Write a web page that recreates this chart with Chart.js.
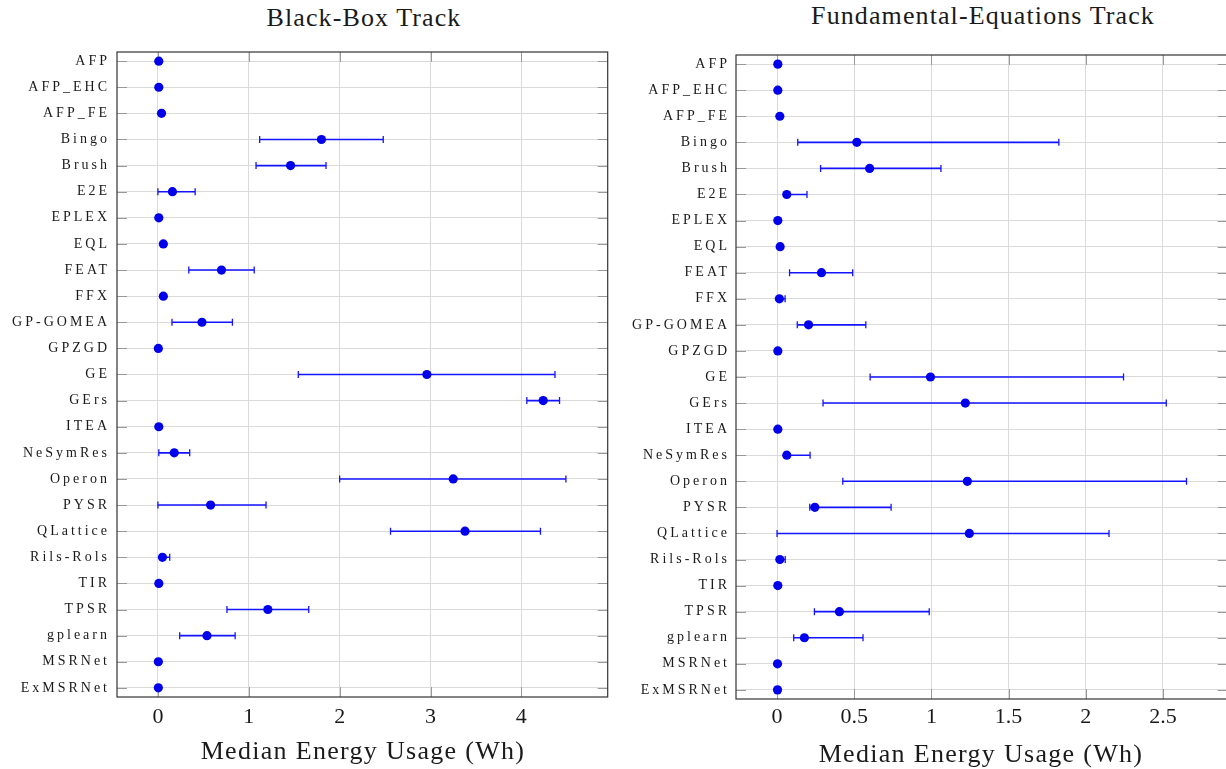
<!DOCTYPE html>
<html>
<head>
<meta charset="utf-8">
<script src="https://cdn.jsdelivr.net/npm/chart.js@4.4.1/dist/chart.umd.min.js"></script>
<style>
  html, body { margin: 0; padding: 0; background: #fff; overflow: hidden; width: 1226px; height: 769px; }
  canvas { position: absolute; top: 0; }
  #bb { left: 0; }
  #fe { left: 613px; }
  .txt { position: absolute; width: 600px; text-align: center; font-family: 'Liberation Serif', serif;
         color: #1a1a1a; line-height: 1; white-space: nowrap; }
  .title { font-size: 26px; letter-spacing: 1.1px; }
  .axis { font-size: 26px; letter-spacing: 1.3px; }
</style>
</head>
<body>
<div class="txt title" style="left:64px; top:5px;">Black-Box Track</div>
<div class="txt title" style="left:683px; top:3px;">Fundamental-Equations Track</div>
<canvas id="bb" width="613" height="769"></canvas>
<canvas id="fe" width="620" height="769"></canvas>
<div class="txt axis" style="left:63px; top:738px;">Median Energy Usage (Wh)</div>
<div class="txt axis" style="left:681px; top:741px;">Median Energy Usage (Wh)</div>
<script>
const methods = ['AFP', 'AFP_EHC', 'AFP_FE', 'Bingo', 'Brush', 'E2E', 'EPLEX', 'EQL', 'FEAT', 'FFX',
  'GP-GOMEA', 'GPZGD', 'GE', 'GErs', 'ITEA', 'NeSymRes', 'Operon', 'PYSR', 'QLattice', 'Rils-Rols',
  'TIR', 'TPSR', 'gplearn', 'MSRNet', 'ExMSRNet'];

// Black-Box track: median and spread (null = no visible bar)
const bbMedian = [0.01, 0.01, 0.04, 1.80, 1.46, 0.16, 0.01, 0.06, 0.70, 0.06,
  0.485, 0.005, 2.96, 4.24, 0.01, 0.18, 3.25, 0.58, 3.38, 0.05,
  0.01, 1.21, 0.54, 0.005, 0.005];
const bbLow = [null, null, null, 1.12, 1.08, 0.0, null, null, 0.34, null,
  0.155, null, 1.545, 4.06, null, 0.01, 2.0, 0.0, 2.56, 0.03,
  null, 0.76, 0.24, null, null];
const bbHigh = [null, null, null, 2.48, 1.85, 0.41, null, null, 1.06, null,
  0.82, null, 4.37, 4.42, null, 0.35, 4.49, 1.19, 4.21, 0.13,
  null, 1.66, 0.85, null, null];

// Fundamental-Equations track
const feMedian = [0.005, 0.005, 0.018, 0.517, 0.60, 0.063, 0.005, 0.02, 0.288, 0.015,
  0.204, 0.005, 0.994, 1.22, 0.005, 0.063, 1.233, 0.245, 1.246, 0.018,
  0.005, 0.404, 0.177, 0.003, 0.003];
const feLow = [null, null, null, 0.134, 0.282, 0.05, null, null, 0.081, 0.01,
  0.131, null, 0.603, 0.298, null, 0.05, 0.426, 0.212, 0.0, 0.01,
  null, 0.242, 0.108, null, null];
const feHigh = [null, null, null, 1.826, 1.062, 0.194, null, null, 0.49, 0.052,
  0.575, null, 2.245, 2.522, null, 0.214, 2.653, 0.739, 2.151, 0.053,
  null, 0.986, 0.557, null, null];

const bbTicks = [0, 1, 2, 3, 4];
const feTicks = [0, 0.5, 1, 1.5, 2, 2.5];

const DOT = 'rgb(0,0,235)';
const BAR = 'rgb(20,20,255)';
const GRID = '#dadada';
const FONT = "'Liberation Serif', serif";

function barPoints(low, high) {
  const pts = [];
  low.forEach((lo, i) => {
    if (lo === null) return;
    pts.push({x: lo, y: i}, {x: high[i], y: i}, {x: null, y: null});
  });
  return pts;
}

// pgfplots-style box with inward tick marks, and spaced-out method labels
const frame = {
  id: 'frame',
  beforeDraw(chart) {
    const y = chart.scales.y;
    if (!y._spaced) {
      const orig = y.drawLabels.bind(y);
      y.drawLabels = (area) => {
        chart.ctx.letterSpacing = '3px';
        orig(area);
        chart.ctx.letterSpacing = '0px';
      };
      y._spaced = true;
    }
  },
  beforeDatasetsDraw(chart) {
    const {ctx, chartArea: a, scales: {x, y}} = chart;
    ctx.save();
    ctx.strokeStyle = '#999';
    ctx.lineWidth = 1;
    ctx.beginPath();
    x.ticks.forEach((t, i) => {
      const px = Math.round(x.getPixelForTick(i)) + 0.5;
      ctx.moveTo(px, a.top); ctx.lineTo(px, a.top + 10);
      ctx.moveTo(px, a.bottom); ctx.lineTo(px, a.bottom - 10);
    });
    y.ticks.forEach((t, i) => {
      const py = Math.round(y.getPixelForTick(i)) + 0.5;
      ctx.moveTo(a.left, py); ctx.lineTo(a.left + 10, py);
      ctx.moveTo(a.right, py); ctx.lineTo(a.right - 10, py);
    });
    ctx.stroke();
    ctx.strokeStyle = '#333';
    ctx.lineWidth = 1.2;
    ctx.strokeRect(a.left, a.top, a.right - a.left, a.bottom - a.top);
    ctx.restore();
  }
};

function makeChart(id, median, low, high, ticks, xMin, xMax, lay) {
  return new Chart(document.getElementById(id), {
    type: 'scatter',
    data: {
      datasets: [
        {
          data: median.map((v, i) => ({x: v, y: i})),
          backgroundColor: DOT,
          borderColor: DOT,
          borderWidth: 0,
          pointRadius: 4.6
        },
        {
          data: barPoints(low, high),
          showLine: true,
          spanGaps: false,
          borderColor: BAR,
          borderWidth: 1.6,
          pointStyle: 'line',
          pointRotation: 90,
          pointRadius: 3.5,
          pointBorderColor: BAR,
          pointBorderWidth: 1.3
        }
      ]
    },
    options: {
      responsive: false,
      animation: false,
      events: [],
      layout: {padding: {top: lay.top, right: lay.right, left: 0, bottom: 0}},
      plugins: {legend: {display: false}, tooltip: {enabled: false}},
      scales: {
        x: {
          type: 'linear',
          min: xMin,
          max: xMax,
          afterBuildTicks: s => { s.ticks = ticks.map(v => ({value: v})); },
          afterFit: s => { s.height = lay.xHeight; },
          grid: {color: GRID, lineWidth: 1, drawTicks: false},
          border: {display: false},
          ticks: {font: {family: FONT, size: 22}, color: '#1a1a1a', padding: lay.xPad,
                  maxRotation: 0, autoSkip: false, callback: v => String(v)}
        },
        y: {
          type: 'linear',
          reverse: true,
          min: -0.35,
          max: methods.length - 0.65,
          afterBuildTicks: s => { s.ticks = methods.map((m, i) => ({value: i})); },
          afterFit: s => { s.width = lay.yWidth; },
          grid: {color: GRID, lineWidth: 1, drawTicks: false},
          border: {display: false},
          ticks: {font: {family: FONT, size: 14}, color: '#1a1a1a', padding: lay.yPad,
                  autoSkip: false, callback: v => methods[v]}
        }
      }
    },
    plugins: [frame]
  });
}

makeChart('bb', bbMedian, bbLow, bbHigh, bbTicks, -0.45, 4.95,
  {top: 52, right: 3, xHeight: 72, yWidth: 117, xPad: 7, yPad: 7});
makeChart('fe', feMedian, feLow, feHigh, feTicks, -0.266, 2.92,
  {top: 55, right: 4, xHeight: 70, yWidth: 123, xPad: 5, yPad: 6});
</script>
</body>
</html>
